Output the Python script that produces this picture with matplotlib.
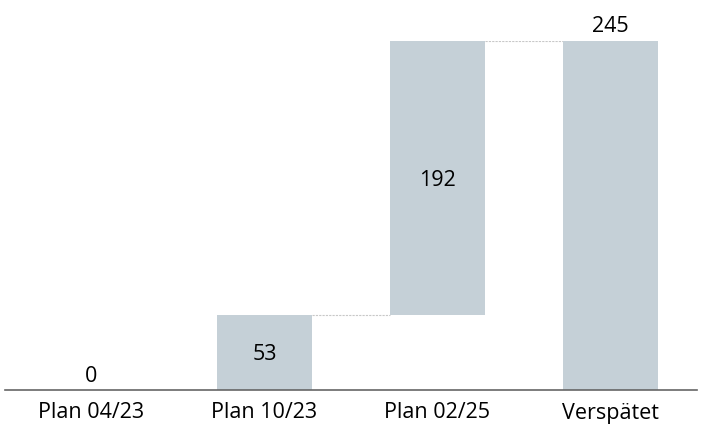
import matplotlib
matplotlib.use("Agg")
import matplotlib.pyplot as plt
import numpy as np

plt.rcParams.update({"font.family": ["Open Sans", "DejaVu Sans"], "font.size": 15.5})

categories = ["Plan 04/23", "Plan 10/23", "Plan 02/25", "Verspätet"]
deltas = [0, 53, 192]
total = 245
BAR = "#C5D0D7"

bottoms = [0, 0, 53, 0]
heights = [0, 53, 192, total]
cum = np.cumsum(deltas)

fig = plt.figure(figsize=(7.08, 4.37), dpi=100)
ax = fig.add_axes([5 / 708, 47 / 437, 692 / 708, 349 / 437])
x = np.arange(len(categories))
w = 0.55
ax.bar(x, heights, w, bottom=bottoms, color=BAR, zorder=2)

# connectors
for i in range(1, 3):
    ax.plot([x[i] + w / 2, x[i + 1] - w / 2], [cum[i], cum[i]],
            ls=(0, (2, 1)), lw=0.8, color="#C8C8C8", zorder=1)

# labels
ax.text(x[0], 2, f"{heights[0]}", ha="center", va="bottom")
ax.text(x[1], bottoms[1] + heights[1] / 2, f"{heights[1]}", ha="center", va="center_baseline")
ax.text(x[2], bottoms[2] + heights[2] / 2, f"{heights[2]}", ha="center", va="center_baseline")
ax.text(x[3], total + 2.5, f"{total}", ha="center", va="bottom", clip_on=False)

ax.set_xlim(-0.5, 3.5)
ax.set_ylim(0, 245)
ax.set_xticks(x)
ax.set_xticklabels(categories)
ax.tick_params(axis="x", length=0, pad=9)
ax.set_yticks([])
for s in ["top", "right", "left"]:
    ax.spines[s].set_visible(False)
ax.spines["bottom"].set_color("#666666")
ax.spines["bottom"].set_linewidth(1.2)

fig.savefig("out.png", dpi=100)
